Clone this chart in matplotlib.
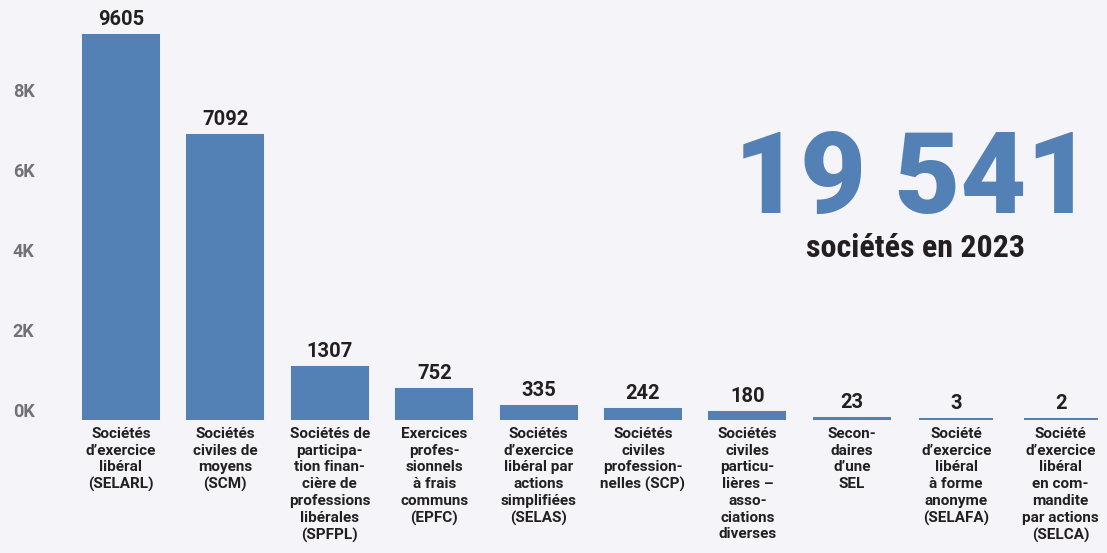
import matplotlib.pyplot as plt
from matplotlib.transforms import ScaledTranslation
from matplotlib import font_manager

# Data
categories = [
    "Sociétés\nd’exercice\nlibéral\n(SELARL)",
    "Sociétés\nciviles de\nmoyens\n(SCM)",
    "Sociétés de\nparticipa-\ntion finan-\ncière de\nprofessions\nlibérales\n(SPFPL)",
    "Exercices\nprofes-\nsionnels\nà frais\ncommuns\n(EPFC)",
    "Sociétés\nd’exercice\nlibéral par\nactions\nsimplifiées\n(SELAS)",
    "Sociétés\nciviles\nprofession-\nnelles (SCP)",
    "Sociétés\nciviles\nparticu-\nlières –\nasso-\nciations\ndiverses",
    "Secon-\ndaires\nd’une\nSEL",
    "Société\nd’exercice\nlibéral\nà forme\nanonyme\n(SELAFA)",
    "Société\nd’exercice\nlibéral\nen com-\nmandite\npar actions\n(SELCA)",
]
counts = [9605, 7092, 1307, 752, 335, 242, 180, 23, 3, 2]
y_ticks = [0, 2000, 4000, 6000, 8000]
y_tick_labels = ["0K", "2K", "4K", "6K", "8K"]
total_label = "19 541"
total_caption = "sociétés en 2023"

bg = "#f4f4f9"
bar_color = "#5380b5"
dark = "#231f20"
grey = "#727276"

names = {f.name for f in font_manager.fontManager.ttflist}
narrow = "Liberation Sans Narrow" if "Liberation Sans Narrow" in names else "Roboto Condensed"

W, H = 1107, 553
fig = plt.figure(figsize=(W / 100, H / 100), dpi=100, facecolor=bg)

base_px = 420
ax = fig.add_axes([40 / W, (H - base_px) / H, 1 - 40 / W, base_px / H])
ax.set_facecolor(bg)

x = list(range(len(counts)))
ax.bar(x, counts, width=0.71, color=bar_color, edgecolor=bar_color, linewidth=2.9)

ax.set_xlim((40 - 121) / 104.4, (W - 121) / 104.4)
ax.set_ylim(0, base_px / 0.040)

for xi, v in zip(x, counts):
    ax.annotate(str(v), (xi, v), xytext=(0, 5), textcoords="offset points",
                ha="center", va="bottom", fontsize=14.5, fontweight="bold",
                family="Roboto", color=dark)

ax.set_xticks(x)
ax.set_xticklabels(categories, fontsize=11, fontweight="bold", family="Roboto",
                   color=dark, linespacing=1.25)
ax.set_yticks(y_ticks)
ax.set_yticklabels(y_tick_labels, fontsize=13, fontweight="bold", family="Roboto",
                   color=grey)
ax.tick_params(axis="both", length=0)
ax.tick_params(axis="x", pad=5)
ax.tick_params(axis="y", pad=4)
for lab in ax.get_yticklabels():
    lab.set_transform(lab.get_transform() + ScaledTranslation(0, 0.10, fig.dpi_scale_trans))

for s in ax.spines.values():
    s.set_visible(False)

fig.text(913 / W, 1 - 213 / H, total_label, ha="center", va="baseline",
         fontsize=82, fontweight="black", family="Roboto", color=bar_color)
fig.text(916 / W, 1 - 257 / H, total_caption, ha="center", va="baseline",
         fontsize=23, fontweight="bold", family=narrow, color=dark)

fig.savefig("out.png", dpi=100, facecolor=bg)
